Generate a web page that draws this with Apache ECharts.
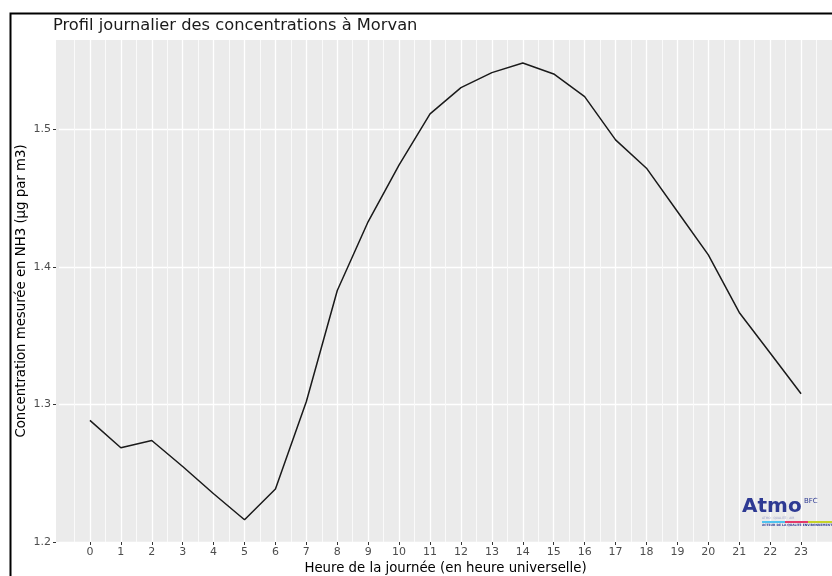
<!DOCTYPE html>
<html lang="fr">
<head>
    <meta charset="utf-8">
    <title>Profil journalier NH3 Morvan</title>
    <script src="https://cdn.jsdelivr.net/npm/echarts@6/dist/echarts.min.js"></script>
    <style>
        html, body { margin: 0; padding: 0; background: #fff; }
        #chart { width: 832px; height: 576px; }
    </style>
</head>
<body>
<div id="chart"></div>
<script>
    // donnees
    var hours = [0, 1, 2, 3, 4, 5, 6, 7, 8, 9, 10, 11, 12, 13, 14, 15, 16, 17, 18, 19, 20, 21, 22, 23];
    var concentrations = [1.2884, 1.2685, 1.2738, 1.2549, 1.2351, 1.2162, 1.2385, 1.3022, 1.3829, 1.4330,
        1.4742, 1.5113, 1.5304, 1.5413, 1.5483, 1.5403, 1.5238, 1.4924, 1.4718, 1.4403,
        1.4088, 1.3669, 1.3374, 1.3078];
    var yTicks = [1.2, 1.3, 1.4, 1.5];

    var font = 'DejaVu Sans';
    var chart = echarts.init(document.getElementById('chart'));

    var points = [];
    for (var i = 0; i < hours.length; i++) {
        points.push([hours[i], concentrations[i]]);
    }

    var option = {
        animation: false,
        backgroundColor: '#ffffff',
        textStyle: { fontFamily: font },
        title: {
            text: 'Profil journalier des concentrations à Morvan',
            left: 48,
            top: 13,
            textStyle: { fontFamily: font, fontSize: 16.3, fontWeight: 'normal', color: '#1a1a1a' }
        },
        grid: [
            // fond gris du panneau
            { left: 56, top: 40, right: 0, bottom: 34, show: true, backgroundColor: '#EBEBEB', borderWidth: 0,
              outerBoundsMode: 'none' },
            { left: 59, top: 40, right: 0, bottom: 34, outerBoundsMode: 'none' }
        ],
        xAxis: [
            { gridIndex: 0, type: 'value', show: false, min: 0, max: 1 },
            {
                gridIndex: 1,
                type: 'value',
                min: -1,
                max: 24,
                interval: 1,
                name: 'Heure de la journée (en heure universelle)',
                nameLocation: 'middle',
                nameGap: 20,
                nameMoveOverlap: false,
                nameTextStyle: { fontFamily: font, fontSize: 13.3, color: '#000' },
                axisLine: { show: false, onZero: false },
                axisTick: { show: true, length: 3, customValues: hours, lineStyle: { color: '#333', width: 1 } },
                axisLabel: {
                    customValues: hours,
                    margin: 5,
                    fontFamily: font, fontSize: 11, color: '#4D4D4D',
                    formatter: function (v) { return (v >= 0 && v <= 23 && v === Math.round(v)) ? String(v) : ''; }
                },
                splitLine: { show: true, lineStyle: { color: '#ffffff', width: 1.3 } },
                minorTick: { show: false, splitNumber: 2 },
                minorSplitLine: { show: true, lineStyle: { color: '#FAFAFA', width: 1 } }
            }
        ],
        yAxis: [
            { gridIndex: 0, type: 'value', show: false, min: 0, max: 1 },
            {
                gridIndex: 1,
                type: 'value',
                position: 'left',
                offset: 3,
                min: 1.2,
                max: 1.565,
                interval: 0.1,
                name: 'Concentration mesurée en NH3 (µg par m3)',
                nameLocation: 'middle',
                nameGap: 28,
                nameMoveOverlap: false,
                nameTextStyle: { fontFamily: font, fontSize: 13.3, color: '#000' },
                axisLine: { show: false, onZero: false },
                axisTick: { show: true, length: 3, customValues: yTicks, lineStyle: { color: '#333', width: 1 } },
                axisLabel: {
                    customValues: yTicks,
                    margin: 5,
                    fontFamily: font, fontSize: 11, color: '#4D4D4D',
                    formatter: function (v) {
                        for (var k = 0; k < yTicks.length; k++) {
                            if (Math.abs(v - yTicks[k]) < 1e-6) return yTicks[k].toFixed(1);
                        }
                        return '';
                    }
                },
                splitLine: { show: true, lineStyle: { color: '#ffffff', width: 1.3 } }
            }
        ],
        series: [
            {
                type: 'line',
                xAxisIndex: 1,
                yAxisIndex: 1,
                data: points,
                symbol: 'none',
                lineStyle: { color: '#1a1a1a', width: 1.5 },
                z: 5
            }
        ],
        graphic: [
            // cadre noir
            { type: 'rect', left: 8, top: 11, shape: { width: 900, height: 600 },
              style: { fill: 'none', stroke: '#000', lineWidth: 2 }, z: 100 },
            // logo Atmo BFC
            { type: 'text', left: 742, top: 497,
              style: { text: 'Atmo', font: 'bold 20px "DejaVu Sans"', fill: '#2E3A93' }, z: 100 },
            { type: 'text', left: 804, top: 498,
              style: { text: 'BFC', font: '7px "DejaVu Sans"', fill: '#2E3A93' }, z: 100 },
            { type: 'text', left: 762, top: 517,
              style: { text: 'ATMO · QUALITÉ · AIR', font: '3px "DejaVu Sans"', fill: '#9aa0c8' }, z: 100 },
            { type: 'rect', left: 762, top: 521, shape: { width: 23, height: 2 }, style: { fill: '#4FC3F0' }, z: 100 },
            { type: 'rect', left: 785, top: 521, shape: { width: 23, height: 2 }, style: { fill: '#E5396A' }, z: 100 },
            { type: 'rect', left: 808, top: 521, shape: { width: 24, height: 2 }, style: { fill: '#C6D32A' }, z: 100 },
            { type: 'text', left: 762, top: 524,
              style: { text: 'ACTEUR DE LA QUALITÉ ENVIRONNEMENTALE', font: 'bold 3px "DejaVu Sans"', fill: '#2E3A93' }, z: 100 }
        ]
    };

    chart.setOption(option);
</script>
</body>
</html>
